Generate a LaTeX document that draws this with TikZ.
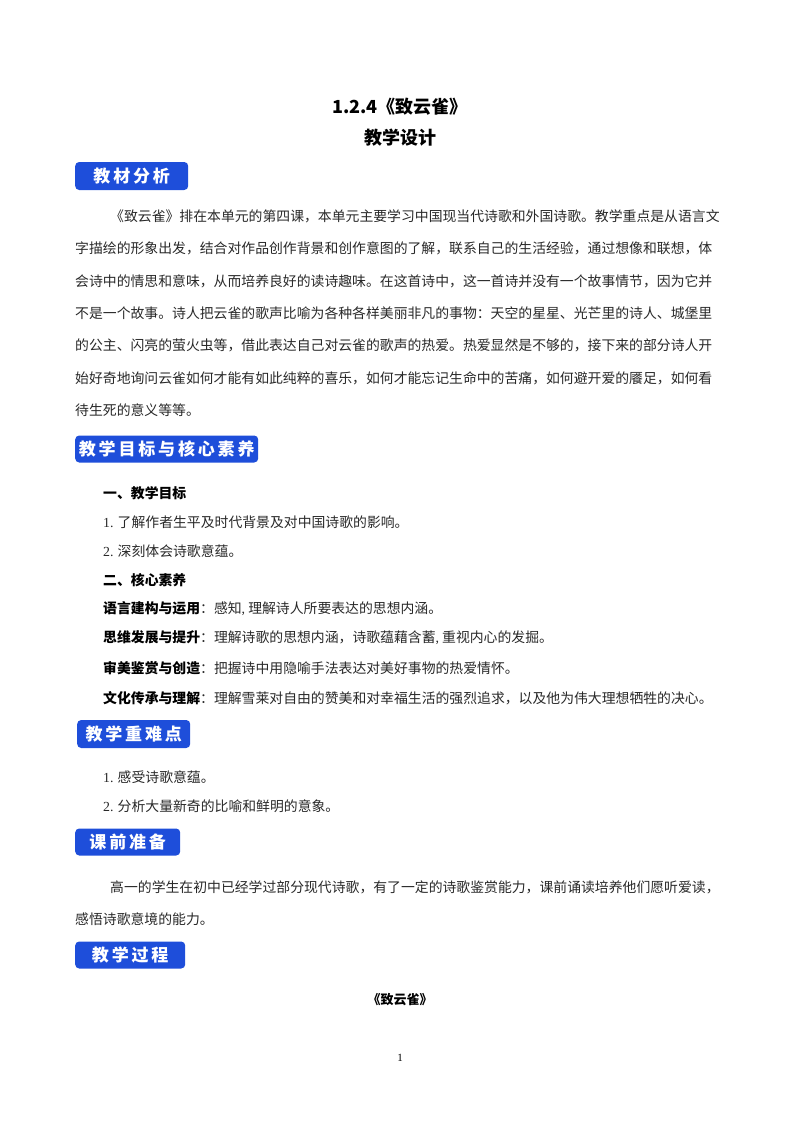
\documentclass[tikz,border=0pt]{standalone}
\usepackage{fontspec}
\setmainfont{Noto Sans CJK SC}
\newfontfamily\latinf{Liberation Serif}
\definecolor{badgeblue}{RGB}{30,78,218}
\definecolor{txt}{RGB}{40,40,40}
\tikzset{
 badge/.style={fill=badgeblue,rounded corners=4pt,text=white,font=\fontsize{17}{17}\selectfont\bfseries,inner sep=0pt,anchor=west,align=center},
 body/.style={anchor=west,inner sep=0pt,text=txt,font=\fontsize{13.85}{14}\selectfont},
 bodyb/.style={anchor=west,inner sep=0pt,text=black,font=\fontsize{13.85}{14}\selectfont\bfseries},
}
\begin{document}
\begin{tikzpicture}[x=1pt,y=-1pt]
\useasboundingbox (0,0) rectangle (800,1132);
\node[font=\fontsize{18}{18}\selectfont\bfseries] (t1) at (400,107) {1.2.4《致云雀》};
\node[font=\fontsize{18}{18}\selectfont\bfseries] (t2) at (400,138) {教学设计};

\node[badge,minimum width=113pt,minimum height=28pt] (b1) at (75,176) {教\,材\,分\,析};
\node[body] (p1) at (110,216) {《致云雀》排在本单元的第四课，本单元主要学习中国现当代诗歌和外国诗歌。教学重点是从语言文};
\node[body] (p2) at (75,248) {字描绘的形象出发，结合对作品创作背景和创作意图的了解，联系自己的生活经验，通过想像和联想，体};
\node[body] (p3) at (75,281) {会诗中的情思和意味，从而培养良好的读诗趣味。在这首诗中，这一首诗并没有一个故事情节，因为它并};
\node[body] (p4) at (75,313) {不是一个故事。诗人把云雀的歌声比喻为各种各样美丽非凡的事物：天空的星星、光芒里的诗人、城堡里};
\node[body] (p5) at (75,345) {的公主、闪亮的萤火虫等，借此表达自己对云雀的歌声的热爱。热爱显然是不够的，接下来的部分诗人开};
\node[body] (p6) at (75,378) {始好奇地询问云雀如何才能有如此纯粹的喜乐，如何才能忘记生命中的苦痛，如何避开爱的餍足，如何看};
\node[body] (p7) at (75,410) {待生死的意义等等。};

\node[badge,minimum width=183pt,minimum height=27pt] (b2) at (75,449) {教\,学\,目\,标\,与\,核\,心\,素\,养};
\node[bodyb] (a1) at (103,493) {一、教学目标};
\node[body] (a2) at (103,522) {{\latinf 1.} 了解作者生平及时代背景及对中国诗歌的影响。};
\node[body] (a3) at (103,551) {{\latinf 2.} 深刻体会诗歌意蕴。};
\node[bodyb] (a4) at (103,580) {二、核心素养};
\node[body] (a5) at (103,609) {\textbf{\color{black}语言建构与运用}：感知{\latinf ,} 理解诗人所要表达的思想内涵。};
\node[body] (a6) at (103,638) {\textbf{\color{black}思维发展与提升}：理解诗歌的思想内涵，诗歌蕴藉含蓄{\latinf ,} 重视内心的发掘。};
\node[body] (a7) at (103,668) {\textbf{\color{black}审美鉴赏与创造}：把握诗中用隐喻手法表达对美好事物的热爱情怀。};
\node[body] (a8) at (103,698) {\textbf{\color{black}文化传承与理解}：理解雪莱对自由的赞美和对幸福生活的强烈追求，以及他为伟大理想牺牲的决心。};

\node[badge,minimum width=113pt,minimum height=28pt] (b3) at (77,734) {教\,学\,重\,难\,点};
\node[body] (c1) at (103,777) {{\latinf 1.} 感受诗歌意蕴。};
\node[body] (c2) at (103,806) {{\latinf 2.} 分析大量新奇的比喻和鲜明的意象。};

\node[badge,minimum width=105pt,minimum height=27pt] (b4) at (75,842) {课\,前\,准\,备};
\node[body] (d1) at (110,887) {高一的学生在初中已经学过部分现代诗歌，有了一定的诗歌鉴赏能力，课前诵读培养他们愿听爱读，};
\node[body] (d2) at (75,919) {感悟诗歌意境的能力。};

\node[badge,minimum width=110pt,minimum height=27pt] (b5) at (75,955) {教\,学\,过\,程};
\node[font=\fontsize{13}{13}\selectfont\bfseries] (e1) at (400,1000) {《致云雀》};
\node[font=\latinf\fontsize{11}{11}\selectfont] (pg) at (400,1058) {1};
\end{tikzpicture}
\end{document}
